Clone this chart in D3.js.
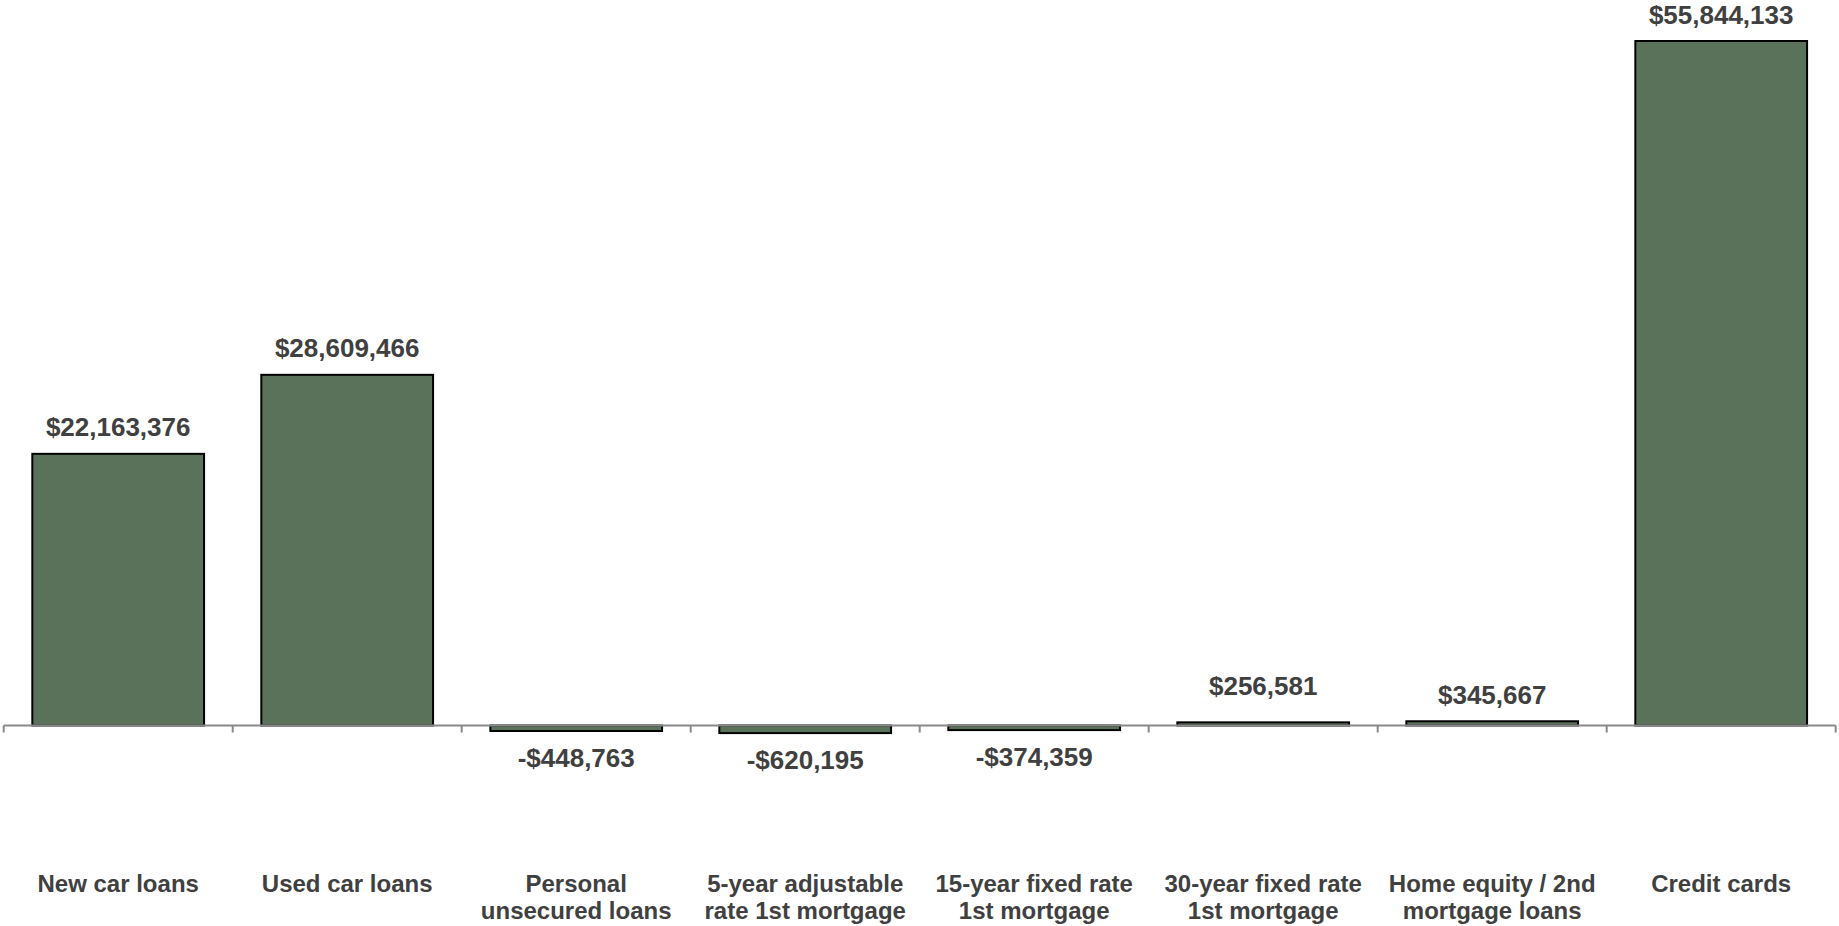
<!DOCTYPE html>
<html>
<head>
<meta charset="utf-8">
<script src="https://cdn.jsdelivr.net/npm/d3@7"></script>
<style>
  html, body { margin: 0; padding: 0; background: #ffffff; }
  svg { display: block; }
  text { font-family: "Liberation Sans", Arial, sans-serif; font-weight: bold; fill: #404040; }
</style>
</head>
<body>
<svg id="chart" width="1839" height="926"></svg>
<script>
const categories = [
  "New car loans",
  "Used car loans",
  "Personal unsecured loans",
  "5-year adjustable rate 1st mortgage",
  "15-year fixed rate 1st mortgage",
  "30-year fixed rate 1st mortgage",
  "Home equity / 2nd mortgage loans",
  "Credit cards"
];
const categoryLines = [
  ["New car loans"],
  ["Used car loans"],
  ["Personal", "unsecured loans"],
  ["5-year adjustable", "rate 1st mortgage"],
  ["15-year fixed rate", "1st mortgage"],
  ["30-year fixed rate", "1st mortgage"],
  ["Home equity / 2nd", "mortgage loans"],
  ["Credit cards"]
];
const values = [22163376, 28609466, -448763, -620195, -374359, 256581, 345667, 55844133];

const svg = d3.select("#chart");
const axisY = 725.5;

const x = d3.scaleBand()
  .domain(categories)
  .range([3.7, 1835.7])
  .paddingInner(0.25)
  .paddingOuter(0.125);

const y = d3.scaleLinear()
  .domain([0, d3.max(values)])
  .range([axisY, 41]);

const fmt = v => (v < 0 ? "-$" : "$") + d3.format(",")(Math.abs(v));

const data = categories.map((c, i) => ({ c, v: values[i], lines: categoryLines[i] }));

// bars
svg.append("g").selectAll("rect")
  .data(data)
  .join("rect")
  .attr("x", d => x(d.c))
  .attr("width", x.bandwidth())
  .attr("y", d => Math.min(y(d.v), y(0)))
  .attr("height", d => Math.abs(y(d.v) - y(0)))
  .attr("fill", "#5a7259")
  .attr("stroke", "#000")
  .attr("stroke-width", 2);

// axis
const outer = [0, ...categories.map((c, i) => i + 1)];
const step = x.step();
const x0 = x.range()[0];
const axisG = svg.append("g");
axisG.append("line")
  .attr("x1", x0).attr("x2", x.range()[1])
  .attr("y1", axisY).attr("y2", axisY)
  .attr("stroke", "#898989").attr("stroke-width", 2);
axisG.selectAll("line.tick")
  .data(outer)
  .join("line")
  .attr("class", "tick")
  .attr("x1", i => x0 + i * step).attr("x2", i => x0 + i * step)
  .attr("y1", axisY).attr("y2", axisY + 7)
  .attr("stroke", "#898989").attr("stroke-width", 2);

// value labels
const nudge = { "30-year fixed rate 1st mortgage": -10 };
svg.append("g").selectAll("text")
  .data(data)
  .join("text")
  .attr("x", d => x(d.c) + x.bandwidth() / 2)
  .attr("y", d => d.v >= 0 ? y(d.v) - 26.5 + (nudge[d.c] || 0) : y(d.v) + 26.5)
  .attr("dy", "0.35em")
  .attr("text-anchor", "middle")
  .style("font-size", "26px")
  .text(d => fmt(d.v));

// category labels
const cat = svg.append("g").selectAll("text")
  .data(data)
  .join("text")
  .attr("text-anchor", "middle")
  .style("font-size", "24px");
cat.selectAll("tspan")
  .data(d => d.lines.map(l => ({ l, cx: x(d.c) + x.bandwidth() / 2 })))
  .join("tspan")
  .attr("x", t => t.cx)
  .attr("y", (t, j) => 884 + j * 27)
  .attr("dy", "0.35em")
  .text(t => t.l);
</script>
</body>
</html>
